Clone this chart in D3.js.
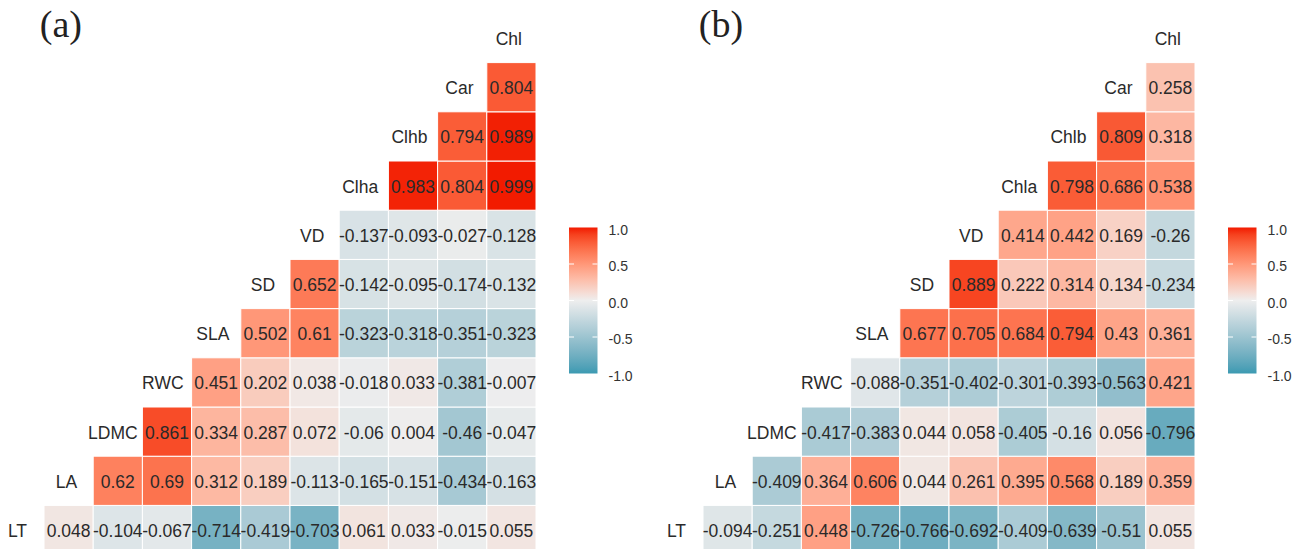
<!DOCTYPE html>
<html>
<head>
<meta charset="utf-8">
<script src="https://cdn.jsdelivr.net/npm/d3@7"></script>
<style>
  html, body { margin: 0; padding: 0; background: #fff; }
  svg { display: block; }
  text { font-family: "Liberation Sans", Arial, sans-serif; }
</style>
</head>
<body>
<svg id="chart" width="1308" height="549"></svg>
<script>
// Variables, bottom row to top row
const varsA = ["LT", "LA", "LDMC", "RWC", "SLA", "SD", "VD", "Clha", "Clhb", "Car", "Chl"];
const varsB = ["LT", "LA", "LDMC", "RWC", "SLA", "SD", "VD", "Chla", "Chlb", "Car", "Chl"];

// Correlation values per row (columns to the right of the row's diagonal)
const rowsA = [
  [0.048, -0.104, -0.067, -0.714, -0.419, -0.703, 0.061, 0.033, -0.015, 0.055],
  [0.62, 0.69, 0.312, 0.189, -0.113, -0.165, -0.151, -0.434, -0.163],
  [0.861, 0.334, 0.287, 0.072, -0.06, 0.004, -0.46, -0.047],
  [0.451, 0.202, 0.038, -0.018, 0.033, -0.381, -0.007],
  [0.502, 0.61, -0.323, -0.318, -0.351, -0.323],
  [0.652, -0.142, -0.095, -0.174, -0.132],
  [-0.137, -0.093, -0.027, -0.128],
  [0.983, 0.804, 0.999],
  [0.794, 0.989],
  [0.804]
];
const rowsB = [
  [-0.094, -0.251, 0.448, -0.726, -0.766, -0.692, -0.409, -0.639, -0.51, 0.055],
  [-0.409, 0.364, 0.606, 0.044, 0.261, 0.395, 0.568, 0.189, 0.359],
  [-0.417, -0.383, 0.044, 0.058, -0.405, -0.16, 0.056, -0.796],
  [-0.088, -0.351, -0.402, -0.301, -0.393, -0.563, 0.421],
  [0.677, 0.705, 0.684, 0.794, 0.43, 0.361],
  [0.889, 0.222, 0.314, 0.134, -0.234],
  [0.414, 0.442, 0.169, -0.26],
  [0.798, 0.686, 0.538],
  [0.809, 0.318],
  [0.258]
];
const legendTicks = [1.0, 0.5, 0.0, -0.5, -1.0];
const legendLabels = ["1.0", "0.5", "0.0", "-0.5", "-1.0"];
const panelTitles = ["(a)", "(b)"];

const svg = d3.select("#chart");
const color = d3.scaleLinear()
  .domain([-1, 0, 1])
  .range(["#3B9AB2", "#EEEEEE", "#F21A00"])
  .interpolate(d3.interpolateLab);

// gradient for legend
const defs = svg.append("defs");
const grad = defs.append("linearGradient").attr("id", "legGrad")
  .attr("x1", 0).attr("y1", 1).attr("x2", 0).attr("y2", 0);
d3.range(0, 21).forEach(i => {
  const v = -1 + i * 0.1;
  grad.append("stop").attr("offset", (i / 20)).attr("stop-color", color(v));
});

function drawPanel(vars, rows, title, x0, legX) {
  const step = 49.2;
  const n = vars.length;
  const g = svg.append("g");
  const x = d3.scaleBand().domain(vars).range([x0, x0 + n * step]).padding(0);
  const yOrder = vars.slice().reverse();
  const y = d3.scaleBand().domain(yOrder).range([13.4, 13.4 + n * step]).padding(0);

  const cells = [];
  rows.forEach((vals, i) => {
    vals.forEach((v, k) => {
      cells.push({ row: vars[i], col: vars[i + 1 + k], v: v });
    });
  });

  g.selectAll("rect.cell").data(cells).enter().append("rect")
    .attr("class", "cell")
    .attr("x", d => x(d.col))
    .attr("y", d => y(d.row))
    .attr("width", x.bandwidth())
    .attr("height", y.bandwidth())
    .attr("fill", d => color(d.v))
    .attr("stroke", "#ffffff")
    .attr("stroke-width", 1);

  g.selectAll("text.val").data(cells).enter().append("text")
    .attr("class", "val")
    .attr("x", d => x(d.col) + x.bandwidth() / 2)
    .attr("y", d => y(d.row) + y.bandwidth() / 2 + 1)
    .attr("text-anchor", "middle")
    .attr("dominant-baseline", "central")
    .attr("font-size", 17.5)
    .attr("fill", "#2a2a2a")
    .text(d => String(d.v));

  // diagonal labels
  const labs = g.selectAll("text.lab").data(vars).enter().append("text")
    .attr("class", "lab")
    .attr("y", d => y(d) + y.bandwidth() / 2 + 1)
    .attr("dominant-baseline", "central")
    .attr("text-anchor", "middle")
    .attr("font-size", 17.5)
    .attr("fill", "#2a2a2a")
    .text(d => d);
  labs.each(function(d) {
    const w = this.getComputedTextLength();
    const cx = x(d) + x.bandwidth() / 2;
    d3.select(this).attr("x", cx - 0.1 * w);
  });

  // panel title
  svg.append("text")
    .attr("x", x0 + 45)
    .attr("y", 24)
    .attr("dominant-baseline", "central")
    .style("font-family", "'Liberation Serif', 'DejaVu Serif', serif")
    .attr("font-size", 38)
    .attr("fill", "#222")
    .text(title);

  // legend
  const ly = d3.scaleLinear().domain([-1, 1]).range([373.5, 227.5]);
  const lw = 28.5;
  svg.append("rect")
    .attr("x", legX).attr("y", ly(1))
    .attr("width", lw).attr("height", ly(-1) - ly(1))
    .attr("fill", "url(#legGrad)");
  const lg = svg.append("g");
  lg.selectAll("line.tl").data(legendTicks.filter(t => Math.abs(t) < 1)).enter().append("line")
    .attr("x1", legX).attr("x2", legX + 5)
    .attr("y1", d => ly(d)).attr("y2", d => ly(d))
    .attr("stroke", "#fff").attr("stroke-width", 1);
  lg.selectAll("line.tr").data(legendTicks.filter(t => Math.abs(t) < 1)).enter().append("line")
    .attr("x1", legX + lw - 5).attr("x2", legX + lw)
    .attr("y1", d => ly(d)).attr("y2", d => ly(d))
    .attr("stroke", "#fff").attr("stroke-width", 1);
  lg.selectAll("text").data(legendTicks).enter().append("text")
    .attr("x", legX + lw + 11)
    .attr("y", d => ly(d) + 2)
    .attr("dominant-baseline", "central")
    .attr("font-size", 14)
    .attr("fill", "#333")
    .text((d, i) => legendLabels[i]);
}

drawPanel(varsA, rowsA, panelTitles[0], -5.2, 569);
drawPanel(varsB, rowsB, panelTitles[1], 653.8, 1228);
</script>
</body>
</html>
